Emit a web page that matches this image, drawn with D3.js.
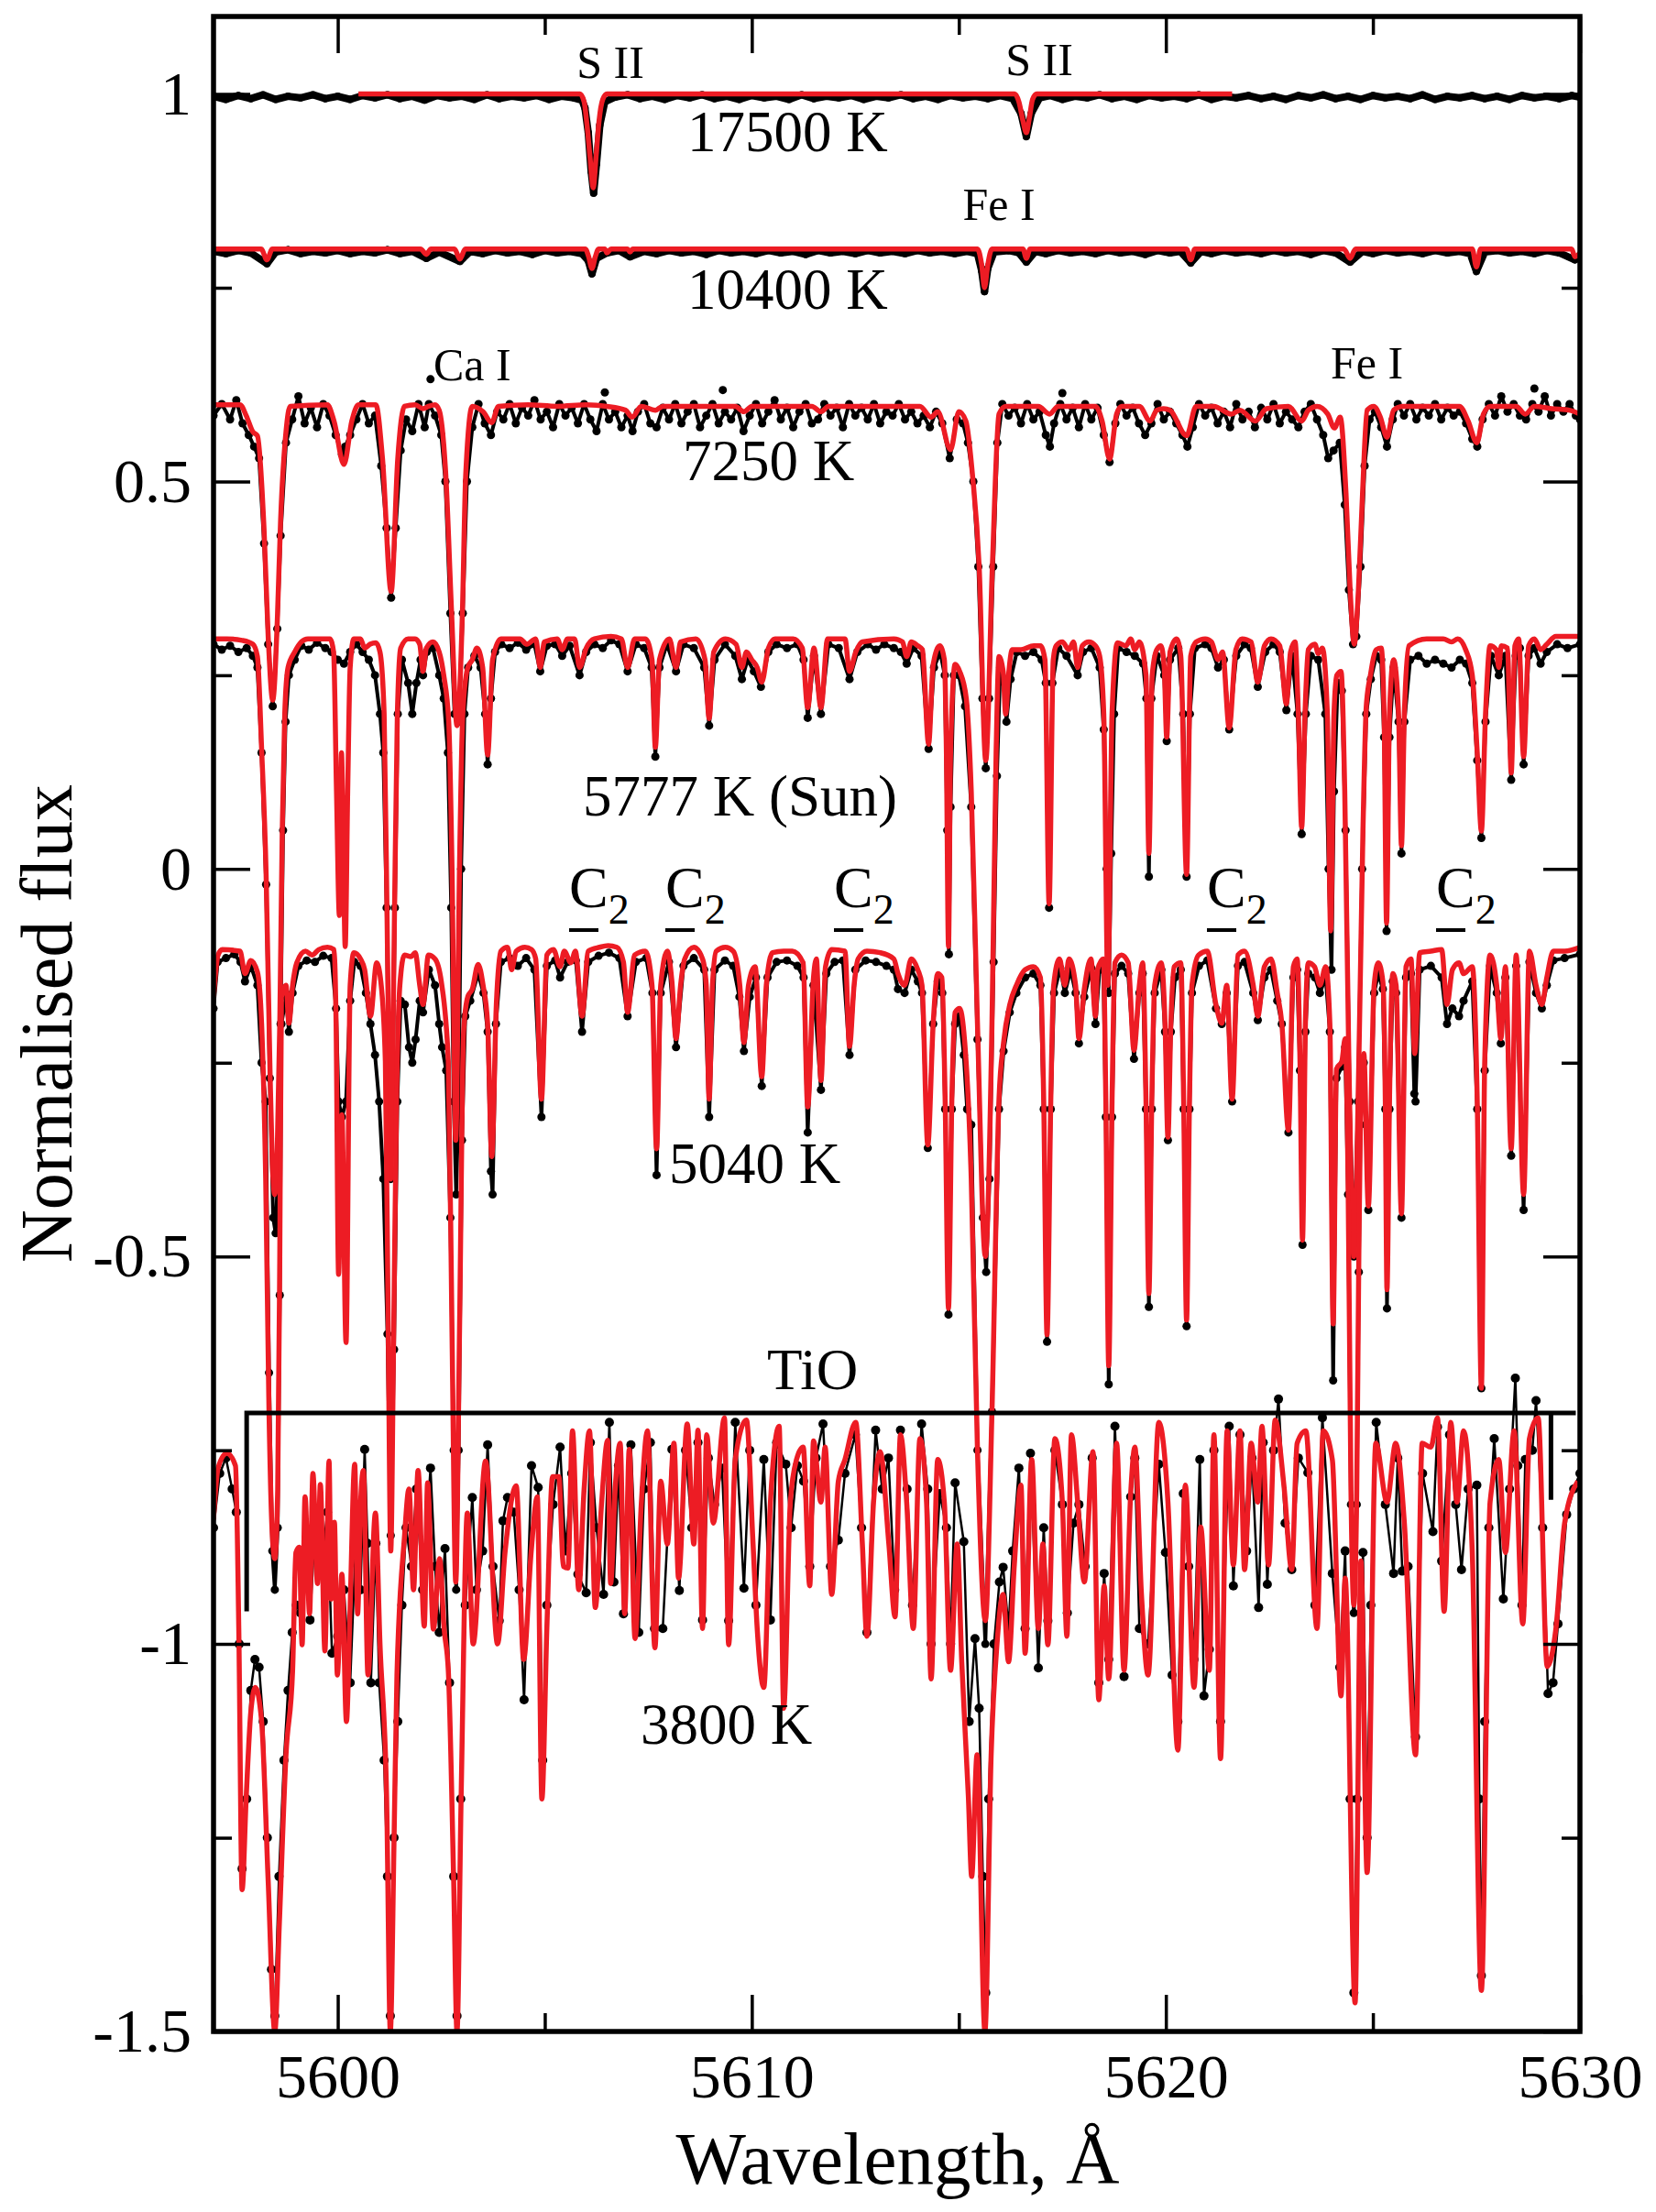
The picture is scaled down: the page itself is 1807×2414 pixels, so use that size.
<!DOCTYPE html>
<html>
<head>
<meta charset="utf-8">
<script src="https://cdnjs.cloudflare.com/ajax/libs/d3/7.8.5/d3.min.js"></script>
<style>
  body { margin: 0; background: #fff; }
  svg text { font-family: "Liberation Serif", "Times New Roman", serif; fill: #000; }
  .axis line { stroke: #000; stroke-width: 3.5; }
  .axis path { display: none; }
  .model { fill: none; stroke: #ed1c24; stroke-width: 5.5; stroke-linejoin: round; }
  .obs { fill: none; stroke: #000; stroke-linejoin: round; }
</style>
</head>
<body>
<svg id="chart" width="1807" height="2414"></svg>
<script>
/* spectra: [wavelength (A), normalised flux + offset] */

const xMajor = [5600, 5610, 5620, 5630];
const xMinor = [5605, 5615, 5625];
const yMajor = [-1.5, -1, -0.5, 0, 0.5, 1];
const yMinor = [-1.25, -0.75, -0.25, 0.25, 0.75];

const model17500 = [[5600.5,1.0],[5605.85,1.0],[5605.95,0.99],[5606.02,0.96],[5606.09,0.92],[5606.17,0.879],[5606.24,0.92],[5606.31,0.965],[5606.4,0.993],[5606.5,1.0],[5616.35,1.0],[5616.45,0.99],[5616.55,0.965],[5616.63,0.95],[5616.7,0.968],[5616.78,0.993],[5616.88,1.0],[5621.6,1.0]];

const obs17500 = [[5597.0,0.997],[5597.3,0.993],[5597.6,0.998],[5597.9,0.994],[5598.2,0.999],[5598.5,0.993],[5598.8,0.997],[5599.1,0.995],[5599.4,0.999],[5599.7,0.994],[5600.0,0.997],[5600.3,0.993],[5600.6,0.998],[5600.9,0.995],[5601.2,0.999],[5601.5,0.994],[5601.8,0.997],[5602.1,0.992],[5602.4,0.998],[5602.7,0.995],[5603.0,0.997],[5603.3,0.993],[5603.6,0.999],[5603.9,0.994],[5604.2,0.997],[5604.5,0.995],[5604.8,0.998],[5605.1,0.993],[5605.4,0.997],[5605.7,0.995],[5605.9,0.992],[5605.97,0.982],[5606.05,0.95],[5606.12,0.9],[5606.18,0.872],[5606.25,0.91],[5606.33,0.96],[5606.45,0.99],[5606.7,0.996],[5607.0,0.999],[5607.3,0.994],[5607.6,0.997],[5607.9,0.993],[5608.2,0.998],[5608.5,0.995],[5608.8,0.999],[5609.1,0.994],[5609.4,0.997],[5609.7,0.993],[5610.0,0.998],[5610.3,0.995],[5610.6,0.997],[5610.9,0.993],[5611.2,0.999],[5611.5,0.994],[5611.8,0.997],[5612.1,0.995],[5612.4,0.998],[5612.7,0.993],[5613.0,0.997],[5613.3,0.995],[5613.6,0.999],[5613.9,0.994],[5614.2,0.997],[5614.5,0.993],[5614.8,0.998],[5615.1,0.995],[5615.4,0.997],[5615.7,0.994],[5616.0,0.998],[5616.3,0.994],[5616.5,0.975],[5616.63,0.945],[5616.75,0.975],[5616.95,0.995],[5617.2,0.998],[5617.5,0.993],[5617.8,0.997],[5618.1,0.995],[5618.4,0.999],[5618.7,0.994],[5619.0,0.997],[5619.3,0.993],[5619.6,0.998],[5619.9,0.995],[5620.2,0.997],[5620.5,0.994],[5620.8,0.999],[5621.1,0.993],[5621.4,0.997],[5621.7,0.995],[5622.0,0.998],[5622.3,0.994],[5622.6,0.997],[5622.9,0.993],[5623.2,0.998],[5623.5,0.995],[5623.8,0.999],[5624.1,0.994],[5624.4,0.997],[5624.7,0.993],[5625.0,0.998],[5625.3,0.995],[5625.6,0.997],[5625.9,0.994],[5626.2,0.999],[5626.5,0.993],[5626.8,0.997],[5627.1,0.995],[5627.4,0.998],[5627.7,0.994],[5628.0,0.997],[5628.3,0.993],[5628.6,0.998],[5628.9,0.995],[5629.2,0.997],[5629.5,0.994],[5629.8,0.998],[5630.0,0.996]];

const model10400 = [[5597.0,0.8],[5598.15,0.8],[5598.29,0.786],[5598.42,0.8],[5602.0,0.8],[5602.14,0.793],[5602.25,0.8],[5602.82,0.8],[5602.95,0.787],[5603.08,0.8],[5605.98,0.8],[5606.06,0.79],[5606.14,0.775],[5606.22,0.79],[5606.3,0.8],[5606.45,0.8],[5606.5,0.795],[5606.6,0.8],[5607.0,0.8],[5607.06,0.796],[5607.12,0.8],[5615.45,0.8],[5615.55,0.78],[5615.62,0.75],[5615.7,0.78],[5615.8,0.8],[5616.55,0.8],[5616.63,0.788],[5616.72,0.8],[5620.5,0.8],[5620.6,0.786],[5620.7,0.8],[5624.3,0.8],[5624.45,0.788],[5624.58,0.8],[5627.4,0.8],[5627.5,0.777],[5627.6,0.8],[5629.8,0.8],[5629.88,0.79],[5630.0,0.795]];

const obs10400 = [[5597.0,0.797],[5597.3,0.794],[5597.6,0.798],[5597.9,0.795],[5598.29,0.781],[5598.5,0.796],[5598.8,0.799],[5599.1,0.794],[5599.4,0.797],[5599.7,0.795],[5600.0,0.798],[5600.3,0.794],[5600.6,0.797],[5600.9,0.795],[5601.2,0.799],[5601.5,0.794],[5601.8,0.797],[5602.14,0.788],[5602.45,0.796],[5602.95,0.784],[5603.2,0.797],[5603.5,0.794],[5603.8,0.798],[5604.1,0.795],[5604.4,0.797],[5604.7,0.793],[5605.0,0.798],[5605.3,0.795],[5605.6,0.797],[5605.9,0.794],[5606.05,0.785],[5606.14,0.768],[5606.25,0.788],[5606.5,0.795],[5606.8,0.798],[5607.06,0.79],[5607.4,0.797],[5607.7,0.794],[5608.0,0.798],[5608.3,0.795],[5608.6,0.797],[5608.9,0.793],[5609.2,0.798],[5609.5,0.795],[5609.8,0.797],[5610.1,0.794],[5610.4,0.798],[5610.7,0.795],[5611.0,0.797],[5611.3,0.793],[5611.6,0.798],[5611.9,0.795],[5612.2,0.797],[5612.5,0.794],[5612.8,0.798],[5613.1,0.795],[5613.4,0.797],[5613.7,0.794],[5614.0,0.798],[5614.3,0.795],[5614.6,0.797],[5614.9,0.794],[5615.2,0.797],[5615.45,0.794],[5615.55,0.772],[5615.62,0.745],[5615.7,0.775],[5615.85,0.796],[5616.2,0.798],[5616.45,0.795],[5616.63,0.783],[5616.85,0.797],[5617.1,0.794],[5617.4,0.798],[5617.7,0.795],[5618.0,0.797],[5618.3,0.794],[5618.6,0.798],[5618.9,0.795],[5619.2,0.797],[5619.5,0.793],[5619.8,0.798],[5620.1,0.795],[5620.35,0.797],[5620.6,0.782],[5620.85,0.797],[5621.1,0.794],[5621.4,0.798],[5621.7,0.795],[5622.0,0.797],[5622.3,0.794],[5622.6,0.798],[5622.9,0.795],[5623.2,0.797],[5623.5,0.793],[5623.8,0.798],[5624.1,0.795],[5624.45,0.783],[5624.75,0.797],[5625.0,0.794],[5625.3,0.798],[5625.6,0.795],[5625.9,0.797],[5626.2,0.794],[5626.5,0.798],[5626.8,0.795],[5627.1,0.797],[5627.35,0.794],[5627.5,0.771],[5627.7,0.796],[5628.0,0.798],[5628.3,0.795],[5628.6,0.797],[5628.9,0.794],[5629.2,0.798],[5629.5,0.795],[5629.88,0.786],[5630.0,0.792]];

const model7250 = [[5597.0,0.599],[5597.64,0.599],[5597.79,0.585],[5597.95,0.564],[5598.06,0.559],[5598.22,0.438],[5598.32,0.3],[5598.43,0.218],[5598.54,0.32],[5598.62,0.45],[5598.75,0.564],[5598.85,0.597],[5599.75,0.599],[5599.91,0.578],[5600.15,0.522],[5600.34,0.578],[5600.5,0.599],[5600.92,0.599],[5601.08,0.53],[5601.29,0.358],[5601.45,0.53],[5601.61,0.597],[5601.87,0.599],[5602.06,0.594],[5602.19,0.597],[5602.35,0.599],[5602.45,0.592],[5602.61,0.508],[5602.75,0.33],[5602.88,0.185],[5603.01,0.33],[5603.09,0.508],[5603.25,0.597],[5603.51,0.59],[5603.72,0.576],[5603.88,0.597],[5604.6,0.599],[5605.3,0.597],[5606.0,0.599],[5606.5,0.597],[5606.95,0.592],[5607.11,0.583],[5607.33,0.597],[5607.67,0.592],[5607.85,0.597],[5609.6,0.597],[5609.81,0.59],[5610.0,0.597],[5611.45,0.597],[5611.67,0.59],[5611.85,0.597],[5614.06,0.597],[5614.33,0.583],[5614.49,0.59],[5614.8,0.541],[5615.0,0.59],[5615.17,0.578],[5615.33,0.508],[5615.49,0.391],[5615.65,0.14],[5615.81,0.391],[5615.97,0.587],[5616.13,0.597],[5616.92,0.597],[5617.19,0.587],[5617.4,0.597],[5618.3,0.597],[5618.46,0.578],[5618.64,0.529],[5618.81,0.587],[5618.93,0.597],[5619.36,0.597],[5619.62,0.578],[5619.78,0.592],[5619.94,0.594],[5620.1,0.592],[5620.5,0.559],[5620.73,0.597],[5621.16,0.597],[5621.58,0.587],[5621.79,0.592],[5622.16,0.578],[5622.43,0.594],[5622.96,0.597],[5623.28,0.578],[5623.44,0.592],[5623.65,0.597],[5623.91,0.587],[5624.07,0.569],[5624.21,0.583],[5624.35,0.485],[5624.45,0.36],[5624.55,0.29],[5624.65,0.36],[5624.75,0.485],[5624.86,0.592],[5625.02,0.597],[5625.18,0.583],[5625.34,0.557],[5625.5,0.592],[5625.72,0.597],[5627.09,0.597],[5627.3,0.578],[5627.51,0.55],[5627.67,0.587],[5627.83,0.597],[5628.46,0.597],[5628.68,0.587],[5628.9,0.597],[5629.31,0.594],[5629.74,0.592],[5630.0,0.587]];

const obs7250 = [[5597.0,0.585],[5597.2,0.6],[5597.4,0.58],[5597.55,0.605],[5597.7,0.575],[5597.85,0.56],[5597.98,0.545],[5598.1,0.53],[5598.22,0.42],[5598.32,0.29],[5598.43,0.21],[5598.54,0.31],[5598.62,0.43],[5598.75,0.55],[5598.9,0.58],[5599.05,0.61],[5599.2,0.575],[5599.35,0.595],[5599.5,0.57],[5599.65,0.6],[5599.8,0.585],[5599.95,0.56],[5600.1,0.535],[5600.18,0.545],[5600.3,0.56],[5600.45,0.58],[5600.6,0.6],[5600.75,0.575],[5600.9,0.585],[5601.05,0.52],[5601.18,0.44],[5601.29,0.35],[5601.4,0.44],[5601.52,0.54],[5601.65,0.58],[5601.8,0.565],[5601.95,0.6],[5602.1,0.57],[5602.2,0.6],[5602.35,0.585],[5602.5,0.56],[5602.6,0.5],[5602.72,0.33],[5602.82,0.2],[5602.92,0.19],[5603.02,0.33],[5603.12,0.5],[5603.25,0.57],[5603.4,0.6],[5603.55,0.575],[5603.7,0.56],[5603.85,0.59],[5604.0,0.58],[5604.15,0.6],[5604.3,0.575],[5604.45,0.595],[5604.6,0.585],[5604.75,0.605],[5604.9,0.58],[5605.05,0.59],[5605.2,0.57],[5605.35,0.6],[5605.5,0.585],[5605.65,0.595],[5605.8,0.575],[5605.95,0.6],[5606.1,0.58],[5606.25,0.565],[5606.4,0.6],[5606.55,0.58],[5606.7,0.59],[5606.85,0.57],[5607.0,0.585],[5607.12,0.565],[5607.25,0.59],[5607.4,0.6],[5607.55,0.575],[5607.7,0.57],[5607.85,0.595],[5608.0,0.58],[5608.15,0.6],[5608.3,0.575],[5608.45,0.59],[5608.6,0.6],[5608.75,0.57],[5608.9,0.585],[5609.05,0.6],[5609.2,0.575],[5609.35,0.59],[5609.5,0.58],[5609.65,0.595],[5609.8,0.565],[5609.95,0.585],[5610.1,0.6],[5610.25,0.575],[5610.4,0.59],[5610.55,0.605],[5610.7,0.58],[5610.85,0.595],[5611.0,0.57],[5611.15,0.59],[5611.3,0.6],[5611.45,0.575],[5611.6,0.58],[5611.75,0.6],[5611.9,0.585],[5612.05,0.595],[5612.2,0.57],[5612.35,0.6],[5612.5,0.585],[5612.65,0.595],[5612.8,0.58],[5612.95,0.6],[5613.1,0.575],[5613.25,0.59],[5613.4,0.585],[5613.55,0.6],[5613.7,0.58],[5613.85,0.59],[5614.0,0.575],[5614.15,0.585],[5614.3,0.57],[5614.45,0.59],[5614.6,0.575],[5614.78,0.53],[5614.95,0.58],[5615.1,0.575],[5615.22,0.55],[5615.35,0.5],[5615.47,0.39],[5615.57,0.22],[5615.65,0.13],[5615.73,0.22],[5615.83,0.39],[5615.93,0.55],[5616.05,0.6],[5616.2,0.585],[5616.35,0.595],[5616.5,0.575],[5616.65,0.6],[5616.8,0.58],[5616.95,0.59],[5617.1,0.56],[5617.2,0.545],[5617.3,0.575],[5617.45,0.6],[5617.6,0.58],[5617.75,0.595],[5617.9,0.57],[5618.05,0.6],[5618.2,0.58],[5618.35,0.595],[5618.5,0.56],[5618.64,0.525],[5618.78,0.575],[5618.9,0.6],[5619.05,0.585],[5619.2,0.595],[5619.35,0.575],[5619.5,0.56],[5619.65,0.575],[5619.8,0.6],[5619.95,0.58],[5620.1,0.59],[5620.25,0.575],[5620.4,0.56],[5620.52,0.545],[5620.65,0.57],[5620.8,0.6],[5620.95,0.585],[5621.1,0.595],[5621.25,0.575],[5621.4,0.59],[5621.55,0.57],[5621.7,0.6],[5621.85,0.58],[5622.0,0.59],[5622.15,0.57],[5622.3,0.595],[5622.45,0.58],[5622.6,0.6],[5622.75,0.575],[5622.9,0.59],[5623.05,0.58],[5623.2,0.57],[5623.35,0.59],[5623.5,0.6],[5623.65,0.58],[5623.8,0.56],[5623.92,0.53],[5624.05,0.54],[5624.2,0.55],[5624.32,0.47],[5624.42,0.36],[5624.52,0.29],[5624.6,0.3],[5624.7,0.39],[5624.8,0.52],[5624.92,0.58],[5625.05,0.59],[5625.2,0.57],[5625.34,0.545],[5625.48,0.58],[5625.6,0.6],[5625.75,0.585],[5625.9,0.6],[5626.05,0.58],[5626.2,0.595],[5626.35,0.585],[5626.5,0.6],[5626.65,0.58],[5626.8,0.595],[5626.95,0.585],[5627.1,0.59],[5627.25,0.575],[5627.4,0.555],[5627.52,0.545],[5627.65,0.58],[5627.8,0.6],[5627.95,0.585],[5628.1,0.61],[5628.25,0.59],[5628.4,0.6],[5628.55,0.585],[5628.7,0.58],[5628.85,0.6],[5629.0,0.59],[5629.15,0.61],[5629.3,0.585],[5629.45,0.6],[5629.6,0.59],[5629.75,0.6],[5629.9,0.585],[5630.0,0.58]];

const stray7250 = [[5602.24,0.632],[5606.45,0.615],[5609.3,0.618],[5617.5,0.614],[5628.9,0.62]];

const modelSun = [[5597.0,0.297],[5597.32,0.297],[5597.69,0.295],[5597.95,0.29],[5598.06,0.274],[5598.16,0.157],[5598.27,-0.007],[5598.36,-0.25],[5598.42,-0.38],[5598.48,-0.42],[5598.54,-0.36],[5598.6,-0.2],[5598.66,0.05],[5598.72,0.2],[5598.8,0.26],[5598.96,0.28],[5599.12,0.293],[5599.28,0.297],[5599.81,0.297],[5599.9,0.28],[5599.97,0.1],[5600.04,-0.06],[5600.09,0.15],[5600.13,0.05],[5600.18,-0.1],[5600.24,0.1],[5600.3,0.26],[5600.39,0.297],[5600.55,0.297],[5600.65,0.285],[5600.78,0.29],[5600.92,0.292],[5601.02,0.28],[5601.12,0.2],[5601.2,-0.1],[5601.28,-0.4],[5601.36,-0.1],[5601.44,0.2],[5601.52,0.285],[5601.7,0.297],[5601.87,0.297],[5601.98,0.29],[5602.06,0.255],[5602.14,0.285],[5602.3,0.293],[5602.45,0.28],[5602.56,0.25],[5602.68,0.19],[5602.76,0.0],[5602.85,-0.35],[5602.94,0.0],[5603.02,0.2],[5603.14,0.26],[5603.25,0.27],[5603.36,0.285],[5603.5,0.26],[5603.62,0.147],[5603.74,0.27],[5603.94,0.297],[5604.4,0.297],[5604.57,0.29],[5604.78,0.297],[5604.89,0.26],[5604.99,0.293],[5605.3,0.297],[5605.42,0.283],[5605.55,0.297],[5605.72,0.297],[5605.84,0.26],[5606.0,0.285],[5606.2,0.297],[5606.6,0.3],[5606.85,0.297],[5607.0,0.26],[5607.17,0.297],[5607.43,0.297],[5607.59,0.27],[5607.67,0.157],[5607.77,0.27],[5608.01,0.297],[5608.17,0.26],[5608.28,0.293],[5608.65,0.297],[5608.87,0.27],[5608.97,0.194],[5609.08,0.28],[5609.36,0.297],[5609.62,0.29],[5609.76,0.26],[5609.87,0.28],[5610.0,0.27],[5610.13,0.26],[5610.24,0.241],[5610.4,0.285],[5610.56,0.297],[5611.0,0.297],[5611.22,0.285],[5611.35,0.208],[5611.5,0.285],[5611.67,0.208],[5611.83,0.297],[5612.25,0.297],[5612.36,0.255],[5612.51,0.28],[5612.67,0.293],[5613.43,0.297],[5613.64,0.293],[5613.74,0.274],[5613.85,0.293],[5614.01,0.288],[5614.12,0.283],[5614.27,0.161],[5614.38,0.264],[5614.54,0.288],[5614.65,0.27],[5614.7,0.15],[5614.75,-0.1],[5614.8,0.15],[5614.91,0.264],[5615.02,0.255],[5615.18,0.22],[5615.3,0.1],[5615.45,-0.2],[5615.64,-0.5],[5615.8,-0.2],[5615.9,0.15],[5615.97,0.274],[5616.07,0.255],[5616.13,0.2],[5616.2,0.25],[5616.29,0.283],[5616.5,0.283],[5616.81,0.288],[5616.97,0.288],[5617.08,0.27],[5617.18,-0.045],[5617.28,0.27],[5617.35,0.288],[5617.5,0.293],[5617.66,0.283],[5617.77,0.293],[5617.87,0.26],[5617.98,0.288],[5618.14,0.293],[5618.3,0.288],[5618.4,0.275],[5618.5,0.2],[5618.6,-0.15],[5618.7,0.2],[5618.83,0.292],[5619.04,0.288],[5619.15,0.297],[5619.25,0.283],[5619.36,0.293],[5619.52,0.25],[5619.59,0.02],[5619.67,0.25],[5619.78,0.283],[5619.88,0.288],[5619.96,0.26],[5620.02,0.17],[5620.1,0.28],[5620.26,0.297],[5620.36,0.275],[5620.5,-0.007],[5620.6,0.275],[5620.73,0.293],[5620.95,0.297],[5621.1,0.293],[5621.26,0.27],[5621.37,0.28],[5621.53,0.182],[5621.69,0.283],[5621.84,0.297],[5622.06,0.293],[5622.22,0.241],[5622.38,0.288],[5622.54,0.297],[5622.75,0.288],[5622.91,0.213],[5623.01,0.28],[5623.12,0.293],[5623.2,0.2],[5623.28,0.054],[5623.36,0.2],[5623.44,0.283],[5623.6,0.29],[5623.68,0.278],[5623.78,0.285],[5623.9,0.2],[5623.98,-0.08],[5624.06,0.2],[5624.13,0.25],[5624.23,0.255],[5624.32,0.1],[5624.42,-0.25],[5624.54,-0.5],[5624.66,-0.25],[5624.76,0.05],[5624.84,0.21],[5624.94,0.25],[5625.08,0.283],[5625.2,0.285],[5625.27,0.2],[5625.33,-0.07],[5625.4,0.2],[5625.5,0.27],[5625.62,0.2],[5625.69,0.03],[5625.76,0.2],[5625.87,0.288],[5626.3,0.297],[5626.7,0.297],[5626.9,0.293],[5627.05,0.297],[5627.24,0.283],[5627.4,0.25],[5627.52,0.15],[5627.62,0.049],[5627.72,0.2],[5627.83,0.288],[5627.98,0.283],[5628.04,0.26],[5628.1,0.288],[5628.25,0.285],[5628.34,0.124],[5628.43,0.288],[5628.52,0.297],[5628.64,0.145],[5628.76,0.288],[5628.9,0.297],[5629.05,0.283],[5629.2,0.29],[5629.42,0.3],[5630.0,0.3]];

const obsSun = [[5597.0,0.29],[5597.2,0.283],[5597.4,0.288],[5597.6,0.28],[5597.8,0.285],[5597.95,0.275],[5598.06,0.26],[5598.16,0.15],[5598.27,-0.02],[5598.36,-0.27],[5598.44,-0.45],[5598.5,-0.47],[5598.56,-0.38],[5598.62,-0.2],[5598.68,0.05],[5598.74,0.19],[5598.82,0.25],[5598.96,0.27],[5599.12,0.288],[5599.3,0.283],[5599.5,0.292],[5599.7,0.285],[5599.85,0.28],[5600.0,0.27],[5600.15,0.265],[5600.3,0.28],[5600.45,0.29],[5600.6,0.28],[5600.75,0.27],[5600.9,0.25],[5601.02,0.2],[5601.1,0.15],[5601.18,-0.05],[5601.24,-0.3],[5601.28,-0.4],[5601.33,-0.28],[5601.38,-0.05],[5601.45,0.2],[5601.55,0.27],[5601.7,0.24],[5601.8,0.2],[5601.9,0.24],[5602.0,0.27],[5602.06,0.25],[5602.15,0.28],[5602.3,0.285],[5602.45,0.25],[5602.56,0.22],[5602.66,0.15],[5602.74,-0.05],[5602.8,-0.3],[5602.86,-0.42],[5602.92,-0.3],[5602.98,0.0],[5603.06,0.2],[5603.15,0.26],[5603.3,0.275],[5603.45,0.26],[5603.56,0.2],[5603.62,0.135],[5603.7,0.22],[5603.8,0.28],[5603.95,0.29],[5604.15,0.285],[5604.35,0.292],[5604.55,0.283],[5604.75,0.29],[5604.89,0.255],[5605.05,0.288],[5605.25,0.29],[5605.42,0.275],[5605.6,0.288],[5605.84,0.25],[5606.0,0.28],[5606.2,0.29],[5606.4,0.285],[5606.6,0.295],[5606.8,0.29],[5607.0,0.255],[5607.2,0.29],[5607.4,0.285],[5607.58,0.26],[5607.67,0.145],[5607.77,0.26],[5607.95,0.29],[5608.17,0.255],[5608.35,0.29],[5608.6,0.285],[5608.85,0.26],[5608.97,0.185],[5609.1,0.27],[5609.35,0.29],[5609.6,0.275],[5609.76,0.245],[5609.9,0.27],[5610.05,0.255],[5610.22,0.235],[5610.4,0.28],[5610.6,0.29],[5610.85,0.285],[5611.1,0.29],[5611.25,0.27],[5611.35,0.195],[5611.5,0.275],[5611.67,0.2],[5611.85,0.29],[5612.1,0.285],[5612.36,0.245],[5612.55,0.28],[5612.8,0.29],[5613.0,0.283],[5613.2,0.29],[5613.43,0.285],[5613.6,0.28],[5613.74,0.265],[5613.9,0.285],[5614.1,0.275],[5614.27,0.155],[5614.4,0.26],[5614.55,0.28],[5614.66,0.25],[5614.72,0.05],[5614.76,-0.11],[5614.8,0.08],[5614.88,0.25],[5615.0,0.25],[5615.15,0.21],[5615.3,0.08],[5615.45,-0.22],[5615.58,-0.45],[5615.66,-0.52],[5615.74,-0.4],[5615.84,-0.12],[5615.92,0.12],[5616.0,0.26],[5616.1,0.24],[5616.15,0.19],[5616.25,0.245],[5616.4,0.28],[5616.6,0.275],[5616.8,0.28],[5617.0,0.27],[5617.1,0.24],[5617.18,-0.05],[5617.26,0.24],[5617.4,0.285],[5617.6,0.275],[5617.87,0.25],[5618.0,0.28],[5618.2,0.285],[5618.4,0.26],[5618.5,0.18],[5618.57,0.0],[5618.62,-0.16],[5618.68,0.02],[5618.75,0.2],[5618.85,0.285],[5619.05,0.28],[5619.25,0.275],[5619.45,0.265],[5619.53,0.22],[5619.59,-0.01],[5619.65,0.22],[5619.78,0.275],[5619.96,0.25],[5620.02,0.165],[5620.1,0.27],[5620.3,0.285],[5620.42,0.2],[5620.5,-0.01],[5620.58,0.2],[5620.7,0.285],[5620.95,0.29],[5621.1,0.285],[5621.26,0.26],[5621.4,0.27],[5621.53,0.18],[5621.7,0.275],[5621.9,0.29],[5622.05,0.285],[5622.22,0.235],[5622.4,0.28],[5622.6,0.29],[5622.75,0.28],[5622.91,0.205],[5623.05,0.275],[5623.18,0.2],[5623.28,0.045],[5623.38,0.2],[5623.5,0.275],[5623.68,0.27],[5623.85,0.2],[5623.93,0.0],[5624.0,-0.13],[5624.06,0.1],[5624.15,0.24],[5624.25,0.23],[5624.34,0.05],[5624.44,-0.3],[5624.54,-0.5],[5624.64,-0.3],[5624.74,0.0],[5624.84,0.2],[5624.95,0.245],[5625.08,0.275],[5625.2,0.27],[5625.27,0.17],[5625.33,-0.08],[5625.4,0.17],[5625.5,0.26],[5625.62,0.19],[5625.69,0.02],[5625.76,0.19],[5625.9,0.27],[5626.1,0.275],[5626.3,0.265],[5626.5,0.27],[5626.7,0.265],[5626.9,0.26],[5627.1,0.27],[5627.25,0.265],[5627.4,0.24],[5627.52,0.14],[5627.62,0.04],[5627.72,0.19],[5627.85,0.275],[5628.04,0.25],[5628.2,0.275],[5628.34,0.115],[5628.45,0.275],[5628.55,0.285],[5628.64,0.135],[5628.76,0.275],[5628.9,0.285],[5629.05,0.265],[5629.2,0.28],[5629.45,0.29],[5629.7,0.285],[5630.0,0.29]];

const model5040 = [[5597.0,-0.165],[5597.11,-0.111],[5597.21,-0.104],[5597.64,-0.106],[5597.76,-0.135],[5597.9,-0.118],[5598.06,-0.133],[5598.16,-0.199],[5598.26,-0.4],[5598.34,-0.7],[5598.42,-0.86],[5598.48,-0.89],[5598.55,-0.8],[5598.6,-0.5],[5598.64,-0.165],[5598.75,-0.15],[5598.82,-0.199],[5598.91,-0.15],[5599.01,-0.121],[5599.22,-0.106],[5599.38,-0.111],[5599.54,-0.104],[5599.75,-0.101],[5599.91,-0.104],[5599.96,-0.2],[5600.02,-0.523],[5600.1,-0.317],[5600.2,-0.611],[5600.3,-0.15],[5600.39,-0.108],[5600.55,-0.116],[5600.65,-0.13],[5600.79,-0.19],[5600.94,-0.121],[5601.04,-0.145],[5601.15,-0.248],[5601.22,-0.6],[5601.28,-0.88],[5601.35,-0.6],[5601.42,-0.3],[5601.5,-0.15],[5601.61,-0.111],[5601.77,-0.113],[5601.87,-0.108],[5601.98,-0.15],[5602.06,-0.175],[5602.19,-0.111],[5602.35,-0.116],[5602.5,-0.145],[5602.67,-0.248],[5602.76,-0.6],[5602.85,-0.92],[5602.94,-0.6],[5603.04,-0.21],[5603.14,-0.165],[5603.25,-0.155],[5603.39,-0.123],[5603.51,-0.15],[5603.62,-0.2],[5603.72,-0.371],[5603.83,-0.175],[5603.94,-0.106],[5604.1,-0.101],[5604.2,-0.13],[5604.31,-0.106],[5604.52,-0.101],[5604.68,-0.104],[5604.78,-0.116],[5604.92,-0.297],[5605.05,-0.111],[5605.21,-0.104],[5605.37,-0.126],[5605.47,-0.106],[5605.63,-0.121],[5605.74,-0.106],[5605.9,-0.19],[5606.05,-0.106],[5606.32,-0.101],[5606.53,-0.099],[5606.74,-0.101],[5606.9,-0.12],[5607.0,-0.185],[5607.17,-0.111],[5607.43,-0.106],[5607.59,-0.15],[5607.7,-0.361],[5607.8,-0.15],[5607.96,-0.106],[5608.07,-0.145],[5608.17,-0.219],[5608.28,-0.15],[5608.38,-0.116],[5608.6,-0.101],[5608.81,-0.116],[5608.9,-0.15],[5608.97,-0.297],[5609.05,-0.15],[5609.14,-0.106],[5609.36,-0.101],[5609.55,-0.106],[5609.71,-0.15],[5609.81,-0.224],[5609.92,-0.15],[5610.08,-0.126],[5610.24,-0.268],[5610.35,-0.15],[5610.5,-0.108],[5610.77,-0.106],[5610.98,-0.106],[5611.24,-0.121],[5611.35,-0.307],[5611.49,-0.14],[5611.56,-0.116],[5611.67,-0.273],[5611.78,-0.126],[5611.93,-0.104],[5612.25,-0.106],[5612.36,-0.229],[5612.47,-0.15],[5612.57,-0.116],[5612.78,-0.106],[5613.1,-0.108],[5613.43,-0.116],[5613.53,-0.135],[5613.69,-0.15],[5613.85,-0.116],[5614.01,-0.13],[5614.11,-0.15],[5614.25,-0.356],[5614.38,-0.2],[5614.49,-0.135],[5614.59,-0.14],[5614.67,-0.3],[5614.75,-0.567],[5614.83,-0.3],[5614.91,-0.185],[5615.02,-0.18],[5615.12,-0.21],[5615.3,-0.4],[5615.45,-0.75],[5615.64,-0.97],[5615.8,-0.7],[5615.97,-0.297],[5616.08,-0.224],[5616.23,-0.175],[5616.39,-0.15],[5616.6,-0.13],[5616.8,-0.126],[5616.97,-0.14],[5617.05,-0.3],[5617.13,-0.601],[5617.22,-0.3],[5617.29,-0.15],[5617.43,-0.116],[5617.56,-0.15],[5617.66,-0.116],[5617.82,-0.15],[5617.9,-0.219],[5618.03,-0.155],[5618.19,-0.116],[5618.3,-0.19],[5618.35,-0.13],[5618.49,-0.116],[5618.55,-0.3],[5618.62,-0.641],[5618.7,-0.3],[5618.77,-0.121],[5618.93,-0.111],[5619.09,-0.121],[5619.23,-0.234],[5619.36,-0.15],[5619.44,-0.121],[5619.52,-0.3],[5619.59,-0.548],[5619.66,-0.3],[5619.73,-0.15],[5619.89,-0.121],[5619.98,-0.2],[5620.05,-0.346],[5620.12,-0.2],[5620.2,-0.126],[5620.36,-0.121],[5620.43,-0.3],[5620.5,-0.582],[5620.57,-0.3],[5620.63,-0.15],[5620.79,-0.111],[5621.0,-0.106],[5621.21,-0.175],[5621.35,-0.199],[5621.47,-0.15],[5621.6,-0.297],[5621.74,-0.111],[5621.9,-0.106],[5622.11,-0.15],[5622.22,-0.19],[5622.38,-0.126],[5622.54,-0.116],[5622.69,-0.16],[5622.8,-0.199],[5622.96,-0.337],[5623.08,-0.126],[5623.17,-0.116],[5623.24,-0.25],[5623.3,-0.479],[5623.37,-0.2],[5623.44,-0.121],[5623.59,-0.126],[5623.72,-0.15],[5623.86,-0.126],[5623.96,-0.199],[5624.04,-0.587],[5624.12,-0.258],[5624.25,-0.248],[5624.33,-0.219],[5624.4,-0.4],[5624.47,-0.8],[5624.54,-0.95],[5624.61,-0.8],[5624.66,-0.5],[5624.7,-0.322],[5624.78,-0.238],[5624.89,-0.435],[5625.03,-0.15],[5625.13,-0.121],[5625.24,-0.145],[5625.3,-0.3],[5625.34,-0.543],[5625.4,-0.3],[5625.48,-0.135],[5625.56,-0.15],[5625.69,-0.445],[5625.8,-0.126],[5625.92,-0.116],[5626.01,-0.238],[5626.13,-0.108],[5626.4,-0.106],[5626.66,-0.104],[5626.79,-0.175],[5626.92,-0.13],[5627.08,-0.121],[5627.19,-0.135],[5627.4,-0.126],[5627.52,-0.3],[5627.62,-0.67],[5627.7,-0.25],[5627.83,-0.111],[5627.99,-0.15],[5628.09,-0.219],[5628.2,-0.126],[5628.34,-0.361],[5628.46,-0.111],[5628.64,-0.42],[5628.78,-0.106],[5628.94,-0.15],[5629.08,-0.175],[5629.2,-0.14],[5629.36,-0.106],[5629.63,-0.106],[5630.0,-0.101]];

const obs5040 = [[5597.0,-0.18],[5597.1,-0.12],[5597.3,-0.115],[5597.5,-0.11],[5597.65,-0.12],[5597.76,-0.145],[5597.9,-0.125],[5598.06,-0.15],[5598.16,-0.25],[5598.26,-0.3],[5598.34,-0.65],[5598.42,-0.88],[5598.48,-0.93],[5598.55,-0.85],[5598.6,-0.55],[5598.64,-0.2],[5598.75,-0.165],[5598.82,-0.21],[5598.91,-0.16],[5599.05,-0.125],[5599.25,-0.118],[5599.45,-0.12],[5599.65,-0.112],[5599.85,-0.115],[5599.96,-0.18],[5600.02,-0.3],[5600.1,-0.32],[5600.2,-0.3],[5600.3,-0.17],[5600.4,-0.12],[5600.55,-0.125],[5600.68,-0.16],[5600.79,-0.2],[5600.9,-0.24],[5601.0,-0.3],[5601.1,-0.4],[5601.2,-0.6],[5601.28,-0.86],[5601.36,-0.62],[5601.44,-0.3],[5601.52,-0.17],[5601.62,-0.175],[5601.72,-0.23],[5601.8,-0.25],[5601.88,-0.22],[5601.98,-0.17],[5602.06,-0.185],[5602.2,-0.13],[5602.35,-0.15],[5602.45,-0.2],[5602.52,-0.23],[5602.62,-0.26],[5602.72,-0.45],[5602.8,-0.75],[5602.86,-0.93],[5602.92,-0.75],[5603.0,-0.35],[5603.08,-0.19],[5603.2,-0.17],[5603.39,-0.135],[5603.52,-0.16],[5603.62,-0.21],[5603.7,-0.39],[5603.74,-0.42],[5603.82,-0.2],[5603.94,-0.12],[5604.15,-0.115],[5604.35,-0.125],[5604.55,-0.115],[5604.75,-0.13],[5604.92,-0.32],[5605.05,-0.125],[5605.25,-0.118],[5605.37,-0.14],[5605.55,-0.12],[5605.75,-0.118],[5605.9,-0.21],[5606.05,-0.12],[5606.3,-0.112],[5606.55,-0.108],[5606.8,-0.115],[5607.0,-0.19],[5607.2,-0.12],[5607.45,-0.115],[5607.6,-0.16],[5607.7,-0.395],[5607.8,-0.16],[5608.0,-0.12],[5608.17,-0.23],[5608.35,-0.125],[5608.6,-0.115],[5608.85,-0.13],[5608.97,-0.32],[5609.1,-0.13],[5609.35,-0.118],[5609.55,-0.125],[5609.7,-0.165],[5609.81,-0.235],[5609.95,-0.165],[5610.1,-0.14],[5610.24,-0.28],[5610.38,-0.14],[5610.6,-0.12],[5610.85,-0.118],[5611.1,-0.125],[5611.25,-0.14],[5611.35,-0.34],[5611.49,-0.15],[5611.67,-0.285],[5611.8,-0.135],[5612.0,-0.12],[5612.2,-0.118],[5612.36,-0.24],[5612.5,-0.13],[5612.75,-0.118],[5613.0,-0.12],[5613.25,-0.125],[5613.43,-0.13],[5613.53,-0.155],[5613.69,-0.16],[5613.85,-0.13],[5614.01,-0.145],[5614.11,-0.16],[5614.25,-0.36],[5614.38,-0.2],[5614.49,-0.145],[5614.6,-0.16],[5614.67,-0.31],[5614.75,-0.575],[5614.83,-0.31],[5614.91,-0.2],[5615.02,-0.19],[5615.12,-0.24],[5615.2,-0.31],[5615.3,-0.33],[5615.45,-0.75],[5615.64,-1.0],[5615.8,-0.7],[5615.97,-0.31],[5616.08,-0.235],[5616.23,-0.185],[5616.39,-0.16],[5616.6,-0.14],[5616.8,-0.135],[5616.97,-0.15],[5617.05,-0.31],[5617.13,-0.61],[5617.22,-0.31],[5617.3,-0.16],[5617.45,-0.128],[5617.56,-0.16],[5617.7,-0.13],[5617.82,-0.16],[5617.9,-0.225],[5618.03,-0.165],[5618.2,-0.128],[5618.3,-0.2],[5618.4,-0.13],[5618.49,-0.13],[5618.55,-0.32],[5618.62,-0.665],[5618.7,-0.32],[5618.77,-0.135],[5618.93,-0.125],[5619.09,-0.135],[5619.23,-0.245],[5619.36,-0.16],[5619.44,-0.135],[5619.52,-0.31],[5619.59,-0.565],[5619.66,-0.31],[5619.73,-0.16],[5619.89,-0.13],[5619.98,-0.21],[5620.05,-0.35],[5620.12,-0.21],[5620.22,-0.14],[5620.36,-0.13],[5620.43,-0.31],[5620.5,-0.59],[5620.57,-0.31],[5620.63,-0.16],[5620.8,-0.125],[5621.0,-0.118],[5621.21,-0.18],[5621.35,-0.2],[5621.47,-0.16],[5621.6,-0.3],[5621.74,-0.125],[5621.9,-0.12],[5622.11,-0.16],[5622.22,-0.195],[5622.38,-0.14],[5622.54,-0.13],[5622.69,-0.17],[5622.8,-0.2],[5622.96,-0.34],[5623.08,-0.14],[5623.17,-0.13],[5623.24,-0.26],[5623.3,-0.485],[5623.37,-0.21],[5623.44,-0.135],[5623.6,-0.14],[5623.72,-0.16],[5623.86,-0.14],[5623.96,-0.21],[5624.04,-0.66],[5624.12,-0.27],[5624.25,-0.255],[5624.33,-0.23],[5624.4,-0.42],[5624.47,-0.82],[5624.54,-0.96],[5624.61,-0.82],[5624.66,-0.52],[5624.7,-0.33],[5624.78,-0.25],[5624.89,-0.44],[5625.03,-0.16],[5625.13,-0.135],[5625.24,-0.155],[5625.3,-0.31],[5625.34,-0.567],[5625.4,-0.31],[5625.48,-0.145],[5625.56,-0.16],[5625.69,-0.45],[5625.8,-0.14],[5625.92,-0.135],[5626.0,-0.29],[5626.03,-0.3],[5626.13,-0.13],[5626.4,-0.125],[5626.66,-0.14],[5626.79,-0.2],[5626.92,-0.18],[5627.08,-0.19],[5627.19,-0.17],[5627.4,-0.145],[5627.52,-0.31],[5627.62,-0.67],[5627.7,-0.26],[5627.83,-0.125],[5627.99,-0.16],[5628.09,-0.225],[5628.2,-0.14],[5628.34,-0.37],[5628.46,-0.125],[5628.64,-0.44],[5628.78,-0.12],[5628.94,-0.16],[5629.08,-0.18],[5629.2,-0.15],[5629.36,-0.118],[5629.63,-0.115],[5630.0,-0.11]];

const model3800 = [[5597.0,-0.839],[5597.11,-0.773],[5597.32,-0.754],[5597.53,-0.77],[5597.61,-0.98],[5597.69,-1.317],[5597.79,-1.197],[5597.9,-1.088],[5598.01,-1.056],[5598.16,-1.099],[5598.32,-1.306],[5598.48,-1.5],[5598.59,-1.36],[5598.75,-1.143],[5598.91,-1.034],[5598.99,-0.882],[5599.07,-0.875],[5599.14,-1.001],[5599.21,-0.81],[5599.32,-0.961],[5599.4,-0.78],[5599.51,-0.922],[5599.58,-0.794],[5599.69,-1.009],[5599.79,-0.764],[5599.84,-0.942],[5599.92,-0.843],[5599.99,-1.04],[5600.1,-0.91],[5600.21,-1.1],[5600.3,-0.95],[5600.41,-0.768],[5600.48,-0.961],[5600.55,-0.82],[5600.62,-0.776],[5600.73,-1.04],[5600.91,-0.831],[5601.02,-1.0],[5601.18,-1.197],[5601.27,-1.5],[5601.36,-1.251],[5601.43,-1.04],[5601.61,-0.863],[5601.72,-0.8],[5601.83,-0.93],[5601.94,-0.776],[5602.09,-0.977],[5602.17,-0.792],[5602.31,-0.981],[5602.46,-0.89],[5602.57,-0.981],[5602.67,-1.034],[5602.8,-1.306],[5602.88,-1.5],[5602.98,-1.197],[5603.13,-0.831],[5603.27,-1.0],[5603.57,-0.764],[5603.86,-1.0],[5604.04,-0.882],[5604.31,-0.796],[5604.49,-1.02],[5604.67,-0.882],[5604.82,-0.81],[5604.93,-1.2],[5605.05,-0.98],[5605.19,-0.784],[5605.34,-0.784],[5605.45,-0.9],[5605.56,-0.902],[5605.67,-0.725],[5605.82,-0.93],[5605.95,-0.8],[5606.08,-0.725],[5606.22,-0.953],[5606.37,-0.82],[5606.52,-0.737],[5606.59,-0.922],[5606.7,-0.8],[5606.82,-0.741],[5606.93,-0.961],[5607.04,-0.749],[5607.18,-0.993],[5607.33,-0.82],[5607.48,-0.725],[5607.66,-1.005],[5607.8,-0.79],[5607.96,-0.871],[5608.12,-0.741],[5608.23,-0.915],[5608.44,-0.716],[5608.6,-0.871],[5608.7,-0.724],[5608.81,-0.98],[5608.91,-0.73],[5609.07,-0.844],[5609.34,-0.708],[5609.44,-1.001],[5609.6,-0.762],[5609.87,-0.711],[5610.03,-0.871],[5610.13,-0.98],[5610.29,-1.056],[5610.45,-0.817],[5610.66,-0.719],[5610.77,-1.083],[5610.93,-0.817],[5611.08,-0.762],[5611.24,-0.746],[5611.4,-0.925],[5611.49,-0.738],[5611.67,-0.817],[5611.77,-0.746],[5611.93,-0.936],[5612.09,-0.79],[5612.25,-0.762],[5612.51,-0.714],[5612.67,-0.871],[5612.78,-0.99],[5612.94,-0.817],[5613.1,-0.752],[5613.31,-0.871],[5613.46,-0.965],[5613.59,-0.73],[5613.74,-0.817],[5613.9,-0.98],[5614.06,-0.735],[5614.22,-0.817],[5614.33,-1.045],[5614.49,-0.762],[5614.65,-0.817],[5614.8,-1.034],[5614.96,-0.871],[5615.07,-1.023],[5615.23,-1.197],[5615.31,-1.3],[5615.44,-1.143],[5615.63,-1.5],[5615.78,-1.143],[5615.92,-1.001],[5616.07,-0.936],[5616.2,-1.023],[5616.34,-0.898],[5616.5,-0.795],[5616.6,-1.012],[5616.76,-0.762],[5616.92,-0.98],[5617.03,-0.871],[5617.15,-1.001],[5617.32,-0.735],[5617.5,-0.817],[5617.61,-0.99],[5617.72,-0.73],[5617.87,-0.817],[5618.03,-0.92],[5618.24,-0.752],[5618.38,-1.072],[5618.51,-0.925],[5618.62,-1.045],[5618.81,-0.741],[5618.99,-1.034],[5619.15,-0.806],[5619.25,-0.746],[5619.41,-0.936],[5619.57,-1.04],[5619.83,-0.714],[5620.05,-0.817],[5620.29,-1.137],[5620.47,-0.795],[5620.68,-1.056],[5620.84,-0.849],[5621.05,-1.034],[5621.16,-0.73],[5621.32,-1.148],[5621.48,-0.725],[5621.63,-0.898],[5621.79,-0.725],[5621.9,-0.904],[5622.06,-0.741],[5622.22,-0.817],[5622.32,-0.719],[5622.48,-0.898],[5622.64,-0.711],[5622.85,-0.795],[5623.04,-0.904],[5623.17,-0.741],[5623.38,-0.725],[5623.65,-0.98],[5623.8,-0.725],[5624.02,-0.762],[5624.23,-1.067],[5624.33,-0.915],[5624.57,-1.463],[5624.71,-0.893],[5624.86,-1.295],[5625.07,-0.741],[5625.34,-0.817],[5625.55,-0.741],[5625.76,-0.844],[5626.03,-1.143],[5626.19,-0.741],[5626.4,-0.746],[5626.56,-0.708],[5626.72,-0.958],[5626.88,-0.714],[5627.03,-0.817],[5627.19,-0.725],[5627.4,-0.882],[5627.62,-1.447],[5627.83,-0.817],[5628.04,-0.762],[5628.2,-0.882],[5628.41,-0.725],[5628.62,-0.974],[5628.78,-0.735],[5628.99,-0.708],[5629.21,-1.029],[5629.42,-0.98],[5629.63,-0.844],[5629.95,-0.79]];

const obs3800 = [[5597.0,-0.85],[5597.15,-0.78],[5597.3,-0.76],[5597.45,-0.8],[5597.55,-0.83],[5597.62,-1.0],[5597.69,-1.29],[5597.8,-1.2],[5597.9,-1.06],[5598.0,-1.02],[5598.1,-1.03],[5598.2,-1.1],[5598.3,-1.25],[5598.4,-1.42],[5598.48,-1.48],[5598.58,-1.3],[5598.7,-1.15],[5598.8,-1.06],[5598.9,-0.985],[5599.0,-0.95],[5599.1,-0.96],[5599.2,-0.88],[5599.33,-0.969],[5599.45,-0.85],[5599.6,-0.9],[5599.75,-0.83],[5599.86,-1.012],[5600.0,-0.99],[5600.15,-0.93],[5600.3,-1.05],[5600.45,-0.85],[5600.55,-0.93],[5600.65,-0.749],[5600.72,-0.87],[5600.8,-1.05],[5600.92,-0.87],[5601.0,-1.05],[5601.12,-1.15],[5601.2,-1.3],[5601.27,-1.48],[5601.36,-1.25],[5601.45,-1.1],[5601.55,-0.95],[5601.65,-0.85],[5601.78,-0.9],[5601.9,-0.8],[5602.05,-0.93],[5602.24,-0.773],[5602.35,-0.9],[5602.45,-0.985],[5602.59,-0.877],[5602.7,-1.05],[5602.8,-1.3],[5602.88,-1.48],[5602.97,-1.2],[5603.08,-0.95],[5603.25,-0.811],[5603.35,-0.93],[5603.5,-0.88],[5603.62,-0.743],[5603.75,-0.9],[5603.9,-0.97],[5603.99,-0.841],[5604.1,-0.811],[5604.25,-0.83],[5604.38,-0.93],[5604.5,-1.072],[5604.68,-0.77],[5604.84,-0.798],[5604.95,-1.15],[5605.05,-0.95],[5605.2,-0.82],[5605.37,-0.746],[5605.5,-0.88],[5605.65,-0.78],[5605.8,-0.91],[5606.0,-0.934],[5606.1,-0.74],[5606.25,-0.85],[5606.42,-0.936],[5606.56,-0.714],[5606.67,-0.92],[5606.78,-0.77],[5606.9,-0.961],[5607.08,-0.743],[5607.27,-0.985],[5607.4,-0.8],[5607.55,-0.74],[5607.65,-0.98],[5607.85,-0.98],[5608.07,-0.749],[5608.25,-0.931],[5608.4,-0.75],[5608.55,-0.85],[5608.7,-0.74],[5608.81,-0.969],[5608.95,-0.76],[5609.1,-0.82],[5609.28,-0.773],[5609.44,-0.97],[5609.6,-0.714],[5609.81,-0.928],[5609.95,-0.75],[5610.1,-0.95],[5610.29,-0.762],[5610.45,-0.969],[5610.6,-0.74],[5610.82,-0.768],[5610.95,-0.85],[5611.1,-0.77],[5611.25,-0.79],[5611.4,-0.9],[5611.55,-0.76],[5611.72,-0.716],[5611.9,-0.9],[5612.09,-0.866],[5612.25,-0.78],[5612.5,-0.73],[5612.65,-0.85],[5612.78,-0.985],[5612.99,-0.724],[5613.15,-0.8],[5613.3,-0.76],[5613.45,-0.93],[5613.59,-0.724],[5613.75,-0.8],[5613.88,-0.95],[5614.1,-0.716],[5614.25,-0.8],[5614.33,-1.0],[5614.54,-0.806],[5614.7,-0.85],[5614.8,-1.0],[5614.91,-0.792],[5615.12,-0.868],[5615.25,-1.1],[5615.39,-0.993],[5615.49,-1.083],[5615.58,-1.3],[5615.65,-1.45],[5615.72,-1.2],[5615.85,-1.0],[5615.98,-0.92],[5616.07,-0.901],[5616.2,-0.98],[5616.3,-0.88],[5616.45,-0.773],[5616.6,-0.98],[5616.73,-0.754],[5616.92,-1.031],[5617.05,-0.85],[5617.15,-0.97],[5617.32,-0.75],[5617.5,-0.82],[5617.62,-0.96],[5617.77,-0.844],[5617.9,-0.82],[5618.05,-0.9],[5618.22,-0.76],[5618.38,-1.05],[5618.51,-0.909],[5618.62,-1.02],[5618.77,-0.719],[5618.99,-1.042],[5619.15,-0.81],[5619.25,-0.76],[5619.36,-0.98],[5619.57,-1.0],[5619.83,-0.768],[5619.99,-0.882],[5620.15,-1.04],[5620.29,-1.1],[5620.42,-0.806],[5620.55,-0.9],[5620.68,-1.02],[5620.82,-0.762],[5620.92,-1.067],[5621.05,-1.007],[5621.16,-0.75],[5621.32,-1.1],[5621.53,-0.719],[5621.63,-0.925],[5621.79,-0.73],[5621.95,-0.88],[5622.08,-0.76],[5622.24,-0.953],[5622.35,-0.74],[5622.45,-0.923],[5622.6,-0.75],[5622.72,-0.684],[5622.88,-0.844],[5623.04,-0.904],[5623.2,-0.76],[5623.43,-0.779],[5623.6,-0.95],[5623.78,-0.708],[5624.02,-0.909],[5624.2,-1.03],[5624.33,-0.88],[5624.45,-1.2],[5624.54,-1.45],[5624.62,-1.2],[5624.76,-0.882],[5624.86,-1.25],[5624.95,-0.95],[5625.08,-0.714],[5625.3,-0.82],[5625.5,-0.909],[5625.6,-0.76],[5625.71,-0.906],[5625.85,-0.9],[5626.03,-1.12],[5626.2,-0.78],[5626.45,-0.855],[5626.56,-0.72],[5626.66,-0.893],[5626.85,-0.73],[5627.0,-0.82],[5627.14,-0.904],[5627.3,-0.8],[5627.51,-0.795],[5627.57,-1.2],[5627.62,-1.428],[5627.7,-1.1],[5627.8,-0.85],[5627.93,-0.735],[5628.15,-0.942],[5628.3,-0.8],[5628.44,-0.657],[5628.5,-0.77],[5628.6,-0.95],[5628.68,-0.762],[5628.85,-0.75],[5628.94,-0.686],[5629.1,-0.85],[5629.23,-1.064],[5629.35,-1.05],[5629.47,-0.974],[5629.68,-0.833],[5629.85,-0.8],[5630.0,-0.78]];

const spectrumLabels = ['17500 K', '10400 K', '7250 K', '5777 K (Sun)', '5040 K', '3800 K'];

const app = (function () {
  'use strict';

  const width = 1807;
  const height = 2414;
  const margin = { top: 18, right: 83, bottom: 197, left: 233 };
  const w = width - margin.left - margin.right;
  const h = height - margin.top - margin.bottom;

  const x = d3.scaleLinear().domain([5597, 5630]).range([margin.left, margin.left + w]);
  const y = d3.scaleLinear().domain([-1.5, 1.1]).range([margin.top + h, margin.top]);

  function init () {
    const svg = d3.select('#chart');

    svg.append('clipPath').attr('id', 'plotClip')
      .append('rect')
      .attr('x', margin.left).attr('y', margin.top)
      .attr('width', w).attr('height', h);

    const plot = svg.append('g').attr('clip-path', 'url(#plotClip)');

    const modelLine = d3.line()
      .x(function (d) { return x(d[0]); })
      .y(function (d) { return y(d[1]); })
      .curve(d3.curveMonotoneX);
    const obsLine = d3.line()
      .x(function (d) { return x(d[0]); })
      .y(function (d) { return y(d[1]); });

    // observed spectra first (black), model fits on top (red)
    const observed = [
      { data: obs17500, width: 8, r: 4 },
      { data: obs10400, width: 8, r: 4 },
      { data: obs7250, width: 4, r: 4.5 },
      { data: obsSun, width: 4, r: 4.5 },
      { data: obs5040, width: 4, r: 4.5 },
      { data: obs3800, width: 2.5, r: 5 }
    ];
    observed.forEach(function (s) {
      plot.append('path').datum(s.data)
        .attr('class', 'obs')
        .attr('stroke-width', s.width)
        .attr('d', obsLine);
      plot.append('g').selectAll('circle')
        .data(s.data)
        .enter()
        .append('circle')
        .attr('cx', function (d) { return x(d[0]); })
        .attr('cy', function (d) { return y(d[1]); })
        .attr('r', s.r)
        .attr('fill', '#000');
    });

    plot.append('g').selectAll('circle')
      .data(stray7250)
      .enter()
      .append('circle')
      .attr('cx', function (d) { return x(d[0]); })
      .attr('cy', function (d) { return y(d[1]); })
      .attr('r', 4.5)
      .attr('fill', '#000');

    [model17500, model10400, model7250, modelSun, model5040, model3800].forEach(function (m) {
      plot.append('path').datum(m)
        .attr('class', 'model')
        .attr('d', modelLine);
    });

    drawAxes(svg);
    drawLabels(svg);
  }

  function drawAxes (svg) {
    const fmt = function (d) { return String(d); };
    const bottom = y(-1.5);
    const top = y(1.1);
    const left = x(5597);
    const right = x(5630);

    svg.append('g').attr('class', 'axis')
      .attr('transform', 'translate(0,' + bottom + ')')
      .call(d3.axisBottom(x).tickValues(xMajor).tickSize(-40).tickPadding(24).tickFormat(fmt));
    svg.append('g').attr('class', 'axis')
      .attr('transform', 'translate(0,' + bottom + ')')
      .call(d3.axisBottom(x).tickValues(xMinor).tickSize(-20).tickFormat(''));
    svg.append('g').attr('class', 'axis')
      .attr('transform', 'translate(0,' + top + ')')
      .call(d3.axisTop(x).tickValues(xMajor).tickSize(-40).tickFormat(''));
    svg.append('g').attr('class', 'axis')
      .attr('transform', 'translate(0,' + top + ')')
      .call(d3.axisTop(x).tickValues(xMinor).tickSize(-20).tickFormat(''));

    svg.append('g').attr('class', 'axis')
      .attr('transform', 'translate(' + left + ',0)')
      .call(d3.axisLeft(y).tickValues(yMajor).tickSize(-40).tickPadding(24).tickFormat(fmt));
    svg.append('g').attr('class', 'axis')
      .attr('transform', 'translate(' + left + ',0)')
      .call(d3.axisLeft(y).tickValues(yMinor).tickSize(-20).tickFormat(''));
    svg.append('g').attr('class', 'axis')
      .attr('transform', 'translate(' + right + ',0)')
      .call(d3.axisRight(y).tickValues(yMajor).tickSize(-40).tickFormat(''));
    svg.append('g').attr('class', 'axis')
      .attr('transform', 'translate(' + right + ',0)')
      .call(d3.axisRight(y).tickValues(yMinor).tickSize(-20).tickFormat(''));

    svg.selectAll('.axis text')
      .attr('font-size', 68)
      .attr('font-family', '"Liberation Serif", "Times New Roman", serif');

    // frame
    svg.append('rect')
      .attr('x', left).attr('y', top)
      .attr('width', right - left).attr('height', bottom - top)
      .attr('fill', 'none')
      .attr('stroke', '#000')
      .attr('stroke-width', 5.5);

    // axis titles
    svg.append('text')
      .attr('x', (left + right) / 2 + 1)
      .attr('y', 2383)
      .attr('text-anchor', 'middle')
      .attr('font-size', 81)
      .text('Wavelength, Å');

    svg.append('text')
      .attr('transform', 'translate(78,1117) rotate(-90)')
      .attr('text-anchor', 'middle')
      .attr('font-size', 80)
      .text('Normalised flux');
  }

  function drawLabels (svg) {
    const big = 63;
    const small = 50;
    const pos = [[750, 165], [750, 337], [745, 524], [636, 890], [730, 1291], [699, 1903]];
    spectrumLabels.forEach(function (t, i) {
      svg.append('text')
        .attr('x', pos[i][0]).attr('y', pos[i][1])
        .attr('font-size', big)
        .text(t);
    });

    // line identifications
    const ids = [
      { t: 'S II', x: 666, y: 85, a: 'middle' },
      { t: 'S II', x: 1134, y: 82, a: 'middle' },
      { t: 'Fe I', x: 1090, y: 240, a: 'middle' },
      { t: 'Ca I', x: 473, y: 415, a: 'start' },
      { t: 'Fe I', x: 1452, y: 413, a: 'start' }
    ];
    ids.forEach(function (d) {
      svg.append('text')
        .attr('x', d.x).attr('y', d.y)
        .attr('text-anchor', d.a)
        .attr('font-size', small)
        .text(d.t);
    });

    // C2 band labels
    [621, 726, 910, 1317, 1567].forEach(function (cx) {
      const t = svg.append('text')
        .attr('x', cx).attr('y', 990)
        .attr('font-size', 64);
      t.append('tspan').text('C');
      t.append('tspan').attr('dy', 18).attr('font-size', 46).text('2');
      svg.append('line')
        .attr('x1', cx).attr('x2', cx + 32)
        .attr('y1', 1015).attr('y2', 1015)
        .attr('stroke', '#000').attr('stroke-width', 4);
    });

    // TiO band bracket
    svg.append('path')
      .attr('d', 'M' + x(5597.8) + ',' + y(-0.958) +
        'L' + x(5597.8) + ',' + y(-0.702) +
        'L' + x(5629.9) + ',' + y(-0.702) +
        'M' + x(5629.3) + ',' + y(-0.702) +
        'L' + x(5629.3) + ',' + y(-0.814))
      .attr('fill', 'none')
      .attr('stroke', '#000')
      .attr('stroke-width', 5);
    svg.append('text')
      .attr('x', 837).attr('y', 1516)
      .attr('font-size', big)
      .text('TiO');
  }

  return { init: init };
}());

window.addEventListener('load', app.init);
</script>
</body>
</html>
